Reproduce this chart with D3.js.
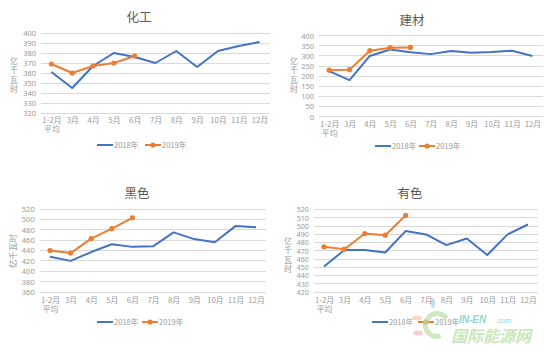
<!DOCTYPE html>
<html><head><meta charset="utf-8">
<script src="https://cdn.jsdelivr.net/npm/d3@7"></script>
<style>body{margin:0;background:#fff}svg{display:block}text{font-family:"Noto Sans CJK SC","Noto Sans",sans-serif}</style>
</head><body><svg id="c" width="544" height="346"></svg>
<script>
const categories = ["1-2月\n平均","3月","4月","5月","6月","7月","8月","9月","10月","11月","12月"];
const seriesNames = ["2018年","2019年"];
const titles = ["化工","建材","黑色","有色"];
const chem2018 = [361,345,367,380,376,370,382,366,382,387,391];
const chem2019 = [369,360,367,370,377];
const build2018 = [225,181,300,332,318,309,324,316,319,326,300];
const build2019 = [230,232,326,341,342];
const black2018 = [428,420,437,452,447,448,475,462,456,487,485];
const black2019 = [440,435,463,482,503];
const nonf2018 = [451,471,471,468,494,490,477,485,465,490,502];
const nonf2019 = [475,472,491,489,513];
const yTicks = [
  [320,330,340,350,360,370,380,390,400],
  [0,50,100,150,200,250,300,350,400],
  [360,380,400,420,440,460,480,500,520],
  [420,430,440,450,460,470,480,490,500,510,520]
];
const colors = ["#4472C4","#ED7D31"];

const panels = [
  {t:0, s:[chem2018,chem2019], x:[41,270], y:[113,33], title:[139,22], yt:{x:14,y:75,rot:false}, xl:120, lg:[97,145], ly:145},
  {t:1, s:[build2018,build2019], x:[319,542.6], y:[116.7,35.7], title:[412,25], yt:{x:294,y:75,rot:false}, xl:124, lg:[375,419], ly:146},
  {t:2, s:[black2018,black2019], x:[39.7,266.3], y:[292,209], title:[137,198], yt:{x:13,y:251,rot:true}, xl:300, lg:[97,142], ly:322},
  {t:3, s:[nonf2018,nonf2019], x:[313.8,538.2], y:[292,209.7], title:[410,198], yt:{x:288,y:255,rot:false}, xl:300, lg:[372,418], ly:322}
];
const svg = d3.select("#c");
panels.forEach(p=>{
  const g = svg.append("g");
  const ticks = yTicks[p.t];
  const x = d3.scalePoint().domain(categories).range(p.x).padding(0.5);
  const y = d3.scaleLinear().domain([ticks[0], ticks[ticks.length-1]]).range(p.y);
  g.selectAll("line.grid").data(ticks).join("line")
    .attr("x1",p.x[0]).attr("x2",p.x[1]).attr("y1",d=>y(d)).attr("y2",d=>y(d))
    .attr("stroke","#d9d9d9").attr("stroke-width",1).attr("shape-rendering","crispEdges");
  const ya = d3.axisLeft(y).tickValues(ticks).tickSize(0).tickPadding(5);
  const yg = g.append("g").attr("transform",`translate(${p.x[0]},0)`).call(ya);
  yg.select(".domain").remove();
  yg.selectAll("text").attr("fill","#999").style("font-size", p.t===3 ? "7px" : "7.5px").style("font-family","'Noto Sans',sans-serif");
  const xa = d3.axisBottom(x).tickSize(0).tickPadding(0).tickFormat(()=>"");
  const xg = g.append("g").attr("transform",`translate(0,${p.xl})`).call(xa);
  xg.select(".domain").remove();
  xg.selectAll(".tick").each(function(d){
    const lines = d.split("\n");
    lines.forEach((l,i)=>d3.select(this).append("text").attr("fill","#999").attr("text-anchor","middle")
      .style("font-size","7.8px").attr("x",0).attr("y",i*9.5).attr("dy","0.35em").text(l));
  });
  g.append("text").attr("x",p.title[0]).attr("y",p.title[1]).attr("text-anchor","middle")
    .attr("fill","#595959").style("font-size","12.5px").text(titles[p.t]);
  const ytxt = "亿千瓦时";
  if(p.yt.rot){
    g.append("text").attr("transform",`translate(${p.yt.x+3},${p.yt.y}) rotate(-90)`).attr("text-anchor","middle")
      .attr("fill","#999").style("font-size","8.5px").text(ytxt);
  } else {
    ytxt.split("").forEach((c,i)=>g.append("text").attr("fill","#999").attr("text-anchor","middle").style("font-size","8px")
      .attr("x",p.yt.x).attr("y",p.yt.y-14+i*9.5).attr("dy","0.35em").text(c));
  }
  p.s.forEach((vals,si)=>{
    const data = vals.map((v,i)=>[categories[i],v]);
    g.append("path").datum(data).attr("fill","none").attr("stroke",colors[si]).attr("stroke-width",2)
      .attr("stroke-linejoin","round")
      .attr("d",d3.line().x(d=>x(d[0])).y(d=>y(d[1])));
    if(si===1){
      g.selectAll("circle.m").data(data).join("circle").attr("cx",d=>x(d[0])).attr("cy",d=>y(d[1]))
        .attr("r",2.6).attr("fill",colors[si]);
    }
  });
  seriesNames.forEach((n,si)=>{
    const lx = p.lg[si];
    g.append("line").attr("x1",lx).attr("x2",lx+16).attr("y1",p.ly).attr("y2",p.ly).attr("stroke",colors[si]).attr("stroke-width",2);
    if(si===1) g.append("circle").attr("cx",lx+8).attr("cy",p.ly).attr("r",2.6).attr("fill",colors[si]);
    g.append("text").attr("x",lx+17).attr("y",p.ly).attr("dy","0.35em").attr("fill","#999").style("font-size","7.5px").text(n);
  });
});
// watermark
const wm = svg.append("g").attr("opacity",0.7);
wm.append("path").attr("d",d3.arc()({innerRadius:9,outerRadius:14,startAngle:Math.PI*0.9,endAngle:Math.PI*2.3}))
  .attr("transform","translate(437,325)").attr("fill","#b9e0a5");
wm.append("ellipse").attr("cx",433).attr("cy",303).attr("rx",2).attr("ry",5).attr("fill","#9fcff0");
wm.append("ellipse").attr("cx",417).attr("cy",318).attr("rx",5).attr("ry",2.5).attr("fill","#f6c9a0");
wm.append("ellipse").attr("cx",418).attr("cy",333).attr("rx",5).attr("ry",2.5).attr("fill","#f2b8c0");
wm.append("text").attr("x",459).attr("y",323).attr("fill","#5cc8b8").style("font-size","10px").style("font-style","italic").style("font-weight","bold").style("font-family","'Liberation Sans',sans-serif").text("IN-EN");
wm.append("text").attr("x",496).attr("y",323).attr("fill","#5cc8b8").style("font-size","7px").style("font-family","'Liberation Sans',sans-serif").text(".com");
wm.append("text").attr("x",451).attr("y",342).attr("fill","#b5dca0").style("font-size","16px").style("font-weight","bold").style("font-style","italic").text("国际能源网");
</script></body></html>
